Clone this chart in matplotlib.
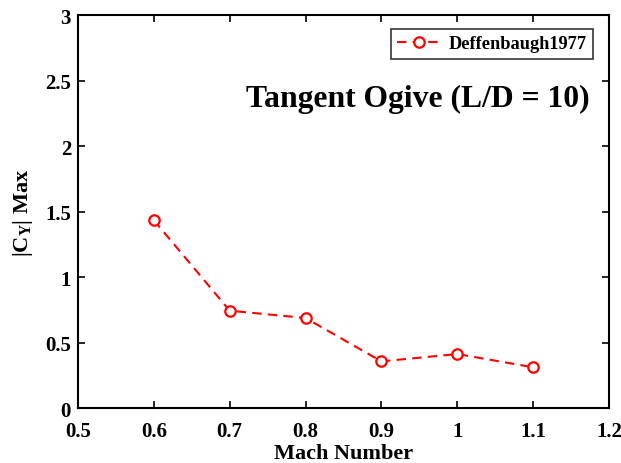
import matplotlib
matplotlib.use('Agg')
import numpy as np
from matplotlib import pyplot as plt

mach = [0.6, 0.7, 0.8, 0.9, 1.0, 1.1]
cy_max = [1.433, 0.743, 0.687, 0.356, 0.412, 0.311]
xticks = [0.5, 0.6, 0.7, 0.8, 0.9, 1.0, 1.1, 1.2]
xticklabels = ['0.5', '0.6', '0.7', '0.8', '0.9', '1', '1.1', '1.2']
yticks = [0, 0.5, 1, 1.5, 2, 2.5, 3]
yticklabels = ['0', '0.5', '1', '1.5', '2', '2.5', '3']

plt.rcParams['font.family'] = ['Liberation Serif', 'DejaVu Serif']
plt.rcParams['font.weight'] = 'bold'
plt.rcParams['mathtext.fontset'] = 'custom'
plt.rcParams['mathtext.rm'] = 'Liberation Serif:bold'
plt.rcParams['mathtext.it'] = 'Liberation Serif:bold'
plt.rcParams['mathtext.bf'] = 'Liberation Serif:bold'

fig = plt.figure(figsize=(6.21, 4.64), dpi=100)
ax = fig.add_axes([0.1256, 0.1185, 0.855, 0.847])

ax.plot(mach, cy_max, '--o', color='red', lw=1.5, ms=7.5, mfc='white',
        mew=1.6, dashes=(4.5, 3), label='Deffenbaugh1977')

ax.set_xlim(0.5, 1.2)
ax.set_ylim(0, 3)
ax.set_xticks(xticks)
ax.set_xticklabels(xticklabels)
ax.set_yticks(yticks)
ax.set_yticklabels(yticklabels)
ax.tick_params(direction='in', top=True, right=True, labelsize=15, width=1.2, length=5)
ax.tick_params(axis='x', pad=9)
ax.tick_params(axis='y', pad=5)
for sp in ax.spines.values():
    sp.set_linewidth(1.5)

ax.set_xlabel('Mach Number', fontsize=16, fontweight='bold', labelpad=2)
ax.set_ylabel(r'|C$_\mathregular{Y}$| Max', fontsize=16, fontweight='bold', labelpad=7)

ax.text(0.963, 0.787, 'Tangent Ogive (L/D = 10)', transform=ax.transAxes,
        ha='right', va='center', fontsize=22.8, fontweight='bold')

leg = ax.legend(loc='upper right', fontsize=13.2, frameon=True, fancybox=False,
                edgecolor='black', bbox_to_anchor=(0.97, 0.965), handlelength=2.4,
                borderpad=0.35, handletextpad=0.4, borderaxespad=0)
leg.get_frame().set_linewidth(1.2)

fig.savefig('out.png', dpi=100)
